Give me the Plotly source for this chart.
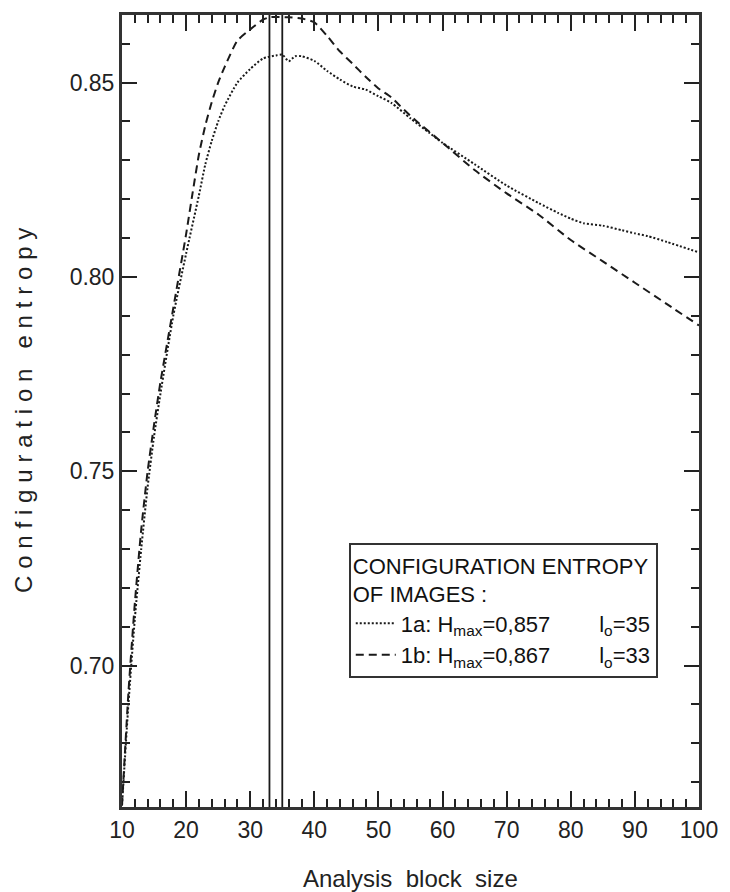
import plotly.graph_objects as go

# ---- data ----
x_1a = [10, 11, 12, 13, 14, 15, 16, 18, 20, 22, 23, 24, 25, 26, 28, 30, 32, 34, 35, 36, 37, 38,
        40, 42, 44, 46, 48, 50, 52, 55, 58, 60, 65, 70, 75, 78, 80, 82, 85, 88, 90, 92, 95, 100]
y_1a = [0.664, 0.690, 0.712, 0.730, 0.746, 0.759, 0.770, 0.790, 0.806, 0.821, 0.829, 0.835, 0.840,
        0.844, 0.850, 0.8535, 0.8562, 0.857, 0.8572, 0.8555, 0.8568, 0.8568,
        0.8556, 0.853, 0.8508, 0.849, 0.8482, 0.8465, 0.8448, 0.8408, 0.837, 0.8345, 0.829,
        0.8235, 0.819, 0.8165, 0.815, 0.8138, 0.8132, 0.812, 0.8112, 0.8105, 0.809, 0.8063]

x_1b = [10, 11, 12, 13, 14, 15, 16, 18, 20, 21, 22, 23, 24, 25, 26, 28, 30, 32, 33, 34, 36, 38,
        40, 42, 44, 46, 48, 50, 52, 54, 56, 60, 65, 70, 75, 80, 85, 90, 95, 100]
y_1b = [0.664, 0.693, 0.716, 0.735, 0.750, 0.762, 0.773, 0.792, 0.811, 0.8215, 0.8315, 0.839,
        0.845, 0.850, 0.854, 0.8608, 0.8637, 0.8662, 0.8668, 0.8669, 0.8668, 0.8665,
        0.8655, 0.862, 0.858, 0.8548, 0.8515, 0.8485, 0.8462, 0.843, 0.840, 0.8345, 0.8275,
        0.8215, 0.816, 0.8095, 0.804, 0.7985, 0.793, 0.7875]

l_o = [33, 35]
x_ticks = [10, 20, 30, 40, 50, 60, 70, 80, 90, 100]
y_ticks = [0.70, 0.75, 0.80, 0.85]
x_range = [10, 100]
y_range = [0.6636, 0.8674]

INK = "#1a1a1a"
FONT = "Liberation Sans, Arial, Helvetica, sans-serif"


def spaced(words, gap="\u2009\u200a", word_gap="\u00a0\u00a0\u00a0"):
    """letter-spaced text (the reference title is typeset with wide tracking)"""
    return word_gap.join(gap.join(w) for w in words)


fig = go.Figure()

fig.add_trace(go.Scatter(
    x=x_1a, y=y_1a, mode="lines",
    line=dict(color=INK, width=2, dash="2px,2px", shape="spline", smoothing=0.6),
    name="1a: H<sub>max</sub>=0,857" + "&nbsp;" * 8 + "l<sub>o</sub>=35",
))
fig.add_trace(go.Scatter(
    x=x_1b, y=y_1b, mode="lines",
    line=dict(color=INK, width=2, dash="8px,5px", shape="spline", smoothing=0.6),
    name="1b: H<sub>max</sub>=0,867" + "&nbsp;" * 8 + "l<sub>o</sub>=33",
))

for xv in l_o:
    fig.add_trace(go.Scatter(
        x=[xv, xv], y=y_range, mode="lines",
        line=dict(color=INK, width=1.8), showlegend=False, hoverinfo="skip",
    ))

axis_common = dict(
    showline=True, linecolor="#333", linewidth=3, mirror="ticks",
    ticks="inside", tickcolor="#222", tickwidth=2,
    showgrid=False, zeroline=False,
    tickfont=dict(family=FONT, size=23, color="#222"),
)

fig.update_xaxes(
    range=x_range, tickvals=x_ticks, ticklen=16,
    minor=dict(ticks="inside", dtick=2, tick0=10, ticklen=8, tickwidth=2, tickcolor="#222"),
    **axis_common,
)
fig.update_yaxes(
    range=y_range, tickvals=y_ticks, tickformat=".2f", ticklen=15,
    minor=dict(ticks="inside", dtick=0.01, tick0=0.70, ticklen=8, tickwidth=2, tickcolor="#222"),
    **axis_common,
)

fig.add_annotation(
    text="Analysis&nbsp;&nbsp;block&nbsp;&nbsp;size", xref="paper", yref="paper",
    x=0.5, y=0, yshift=-71, xanchor="center", yanchor="middle", showarrow=False,
    font=dict(family=FONT, size=24, color="#222"),
)
fig.add_annotation(
    text=spaced(["Configuration", "entropy"]), xref="paper", yref="paper",
    x=0, xshift=-99, y=0.5, xanchor="center", yanchor="middle", showarrow=False,
    textangle=-90, font=dict(family=FONT, size=24, color="#222"),
)

fig.update_layout(
    width=730, height=892,
    margin=dict(l=122, r=20, t=12, b=85),
    paper_bgcolor="white", plot_bgcolor="white",
    showlegend=True,
    legend=dict(
        x=0.393, y=0.333, xanchor="left", yanchor="top",
        bgcolor="white", bordercolor="#333", borderwidth=2,
        font=dict(family=FONT, size=22, color="#111"),
        title=dict(text="CONFIGURATION ENTROPY<br>OF IMAGES :",
                   font=dict(family=FONT, size=22, color="#111")),
        itemwidth=40, tracegroupgap=0,
    ),
)

fig.write_html("out.html")
